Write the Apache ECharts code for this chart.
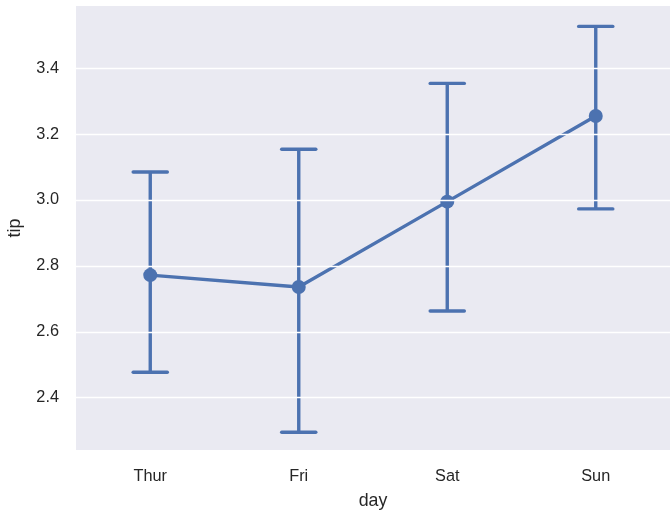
<!DOCTYPE html>
<html>
<head>
<meta charset="utf-8">
<script src="https://cdn.jsdelivr.net/npm/echarts@6/dist/echarts.min.js"></script>
<style>
  html, body { margin: 0; padding: 0; background: #ffffff; }
  #chart { width: 670px; height: 511px; }
</style>
</head>
<body>
<div id="chart"></div>
<script>
// Mean tip by day with 95% confidence intervals
const days = ['Thur', 'Fri', 'Sat', 'Sun'];
const tipMean = [2.772, 2.736, 2.995, 3.255];
const ciLow = [2.477, 2.295, 2.663, 2.973];
const ciHigh = [3.085, 3.154, 3.354, 3.527];
const yTicks = [2.4, 2.6, 2.8, 3.0, 3.2, 3.4];
const yRange = [2.241, 3.589];

const BLUE = '#4c72b0';
const TEXT = '#262626';
const FONT = '"Liberation Sans", Arial, sans-serif';

const errorData = days.map((d, i) => [i, ciLow[i], ciHigh[i]]);

const chart = echarts.init(document.getElementById('chart'), null, { renderer: 'canvas' });

chart.setOption({
  animation: false,
  grid: {
    left: 76, right: 0, top: 6, bottom: 61,
    containLabel: false,
    outerBoundsMode: 'none',
    show: true, backgroundColor: '#eaeaf2', borderWidth: 0
  },
  xAxis: {
    type: 'category',
    data: days,
    boundaryGap: true,
    name: 'day',
    nameLocation: 'middle',
    nameGap: 42,
    nameTextStyle: { color: TEXT, fontSize: 17.8, fontFamily: FONT },
    axisLine: { show: false },
    axisTick: { show: false },
    splitLine: { show: false },
    axisLabel: { color: TEXT, fontSize: 16.3, fontFamily: FONT, margin: 19 }
  },
  yAxis: {
    type: 'value',
    min: yRange[0],
    max: yRange[1],
    name: 'tip',
    nameLocation: 'middle',
    nameGap: 52,
    nameTextStyle: { color: TEXT, fontSize: 17.8, fontFamily: FONT },
    axisLine: { show: false },
    axisTick: { show: false, customValues: yTicks },
    splitLine: { show: false },
    axisLabel: {
      color: TEXT, fontSize: 16.3, fontFamily: FONT, margin: 17,
      customValues: yTicks,
      formatter: v => v.toFixed(1)
    }
  },
  series: [
    {
      // horizontal grid lines at the tick values
      type: 'line',
      data: [],
      silent: true,
      z: 0,
      markLine: {
        silent: true,
        symbol: 'none',
        label: { show: false },
        lineStyle: { color: '#ffffff', width: 1.3, type: 'solid' },
        data: yTicks.map(v => ({ yAxis: v }))
      }
    },
    {
      type: 'custom',
      data: errorData,
      z: 2,
      renderItem: function (params, api) {
        const x = api.value(0);
        const lo = api.coord([x, api.value(1)]);
        const hi = api.coord([x, api.value(2)]);
        const half = api.size([1, 0])[0] * 0.115;
        const style = { stroke: BLUE, lineWidth: 3.4, lineCap: 'butt' };
        return {
          type: 'group',
          children: [
            { type: 'line', shape: { x1: lo[0], y1: lo[1], x2: hi[0], y2: hi[1] }, style: style },
            { type: 'line', shape: { x1: hi[0] - half, y1: hi[1], x2: hi[0] + half, y2: hi[1] }, style: Object.assign({}, style, { lineCap: 'round' }) },
            { type: 'line', shape: { x1: lo[0] - half, y1: lo[1], x2: lo[0] + half, y2: lo[1] }, style: Object.assign({}, style, { lineCap: 'round' }) }
          ]
        };
      }
    },
    {
      type: 'line',
      data: tipMean,
      z: 3,
      symbol: 'circle',
      symbolSize: 14,
      showSymbol: true,
      lineStyle: { color: BLUE, width: 3.4 },
      itemStyle: { color: BLUE, borderWidth: 0 }
    }
  ]
});
</script>
</body>
</html>
